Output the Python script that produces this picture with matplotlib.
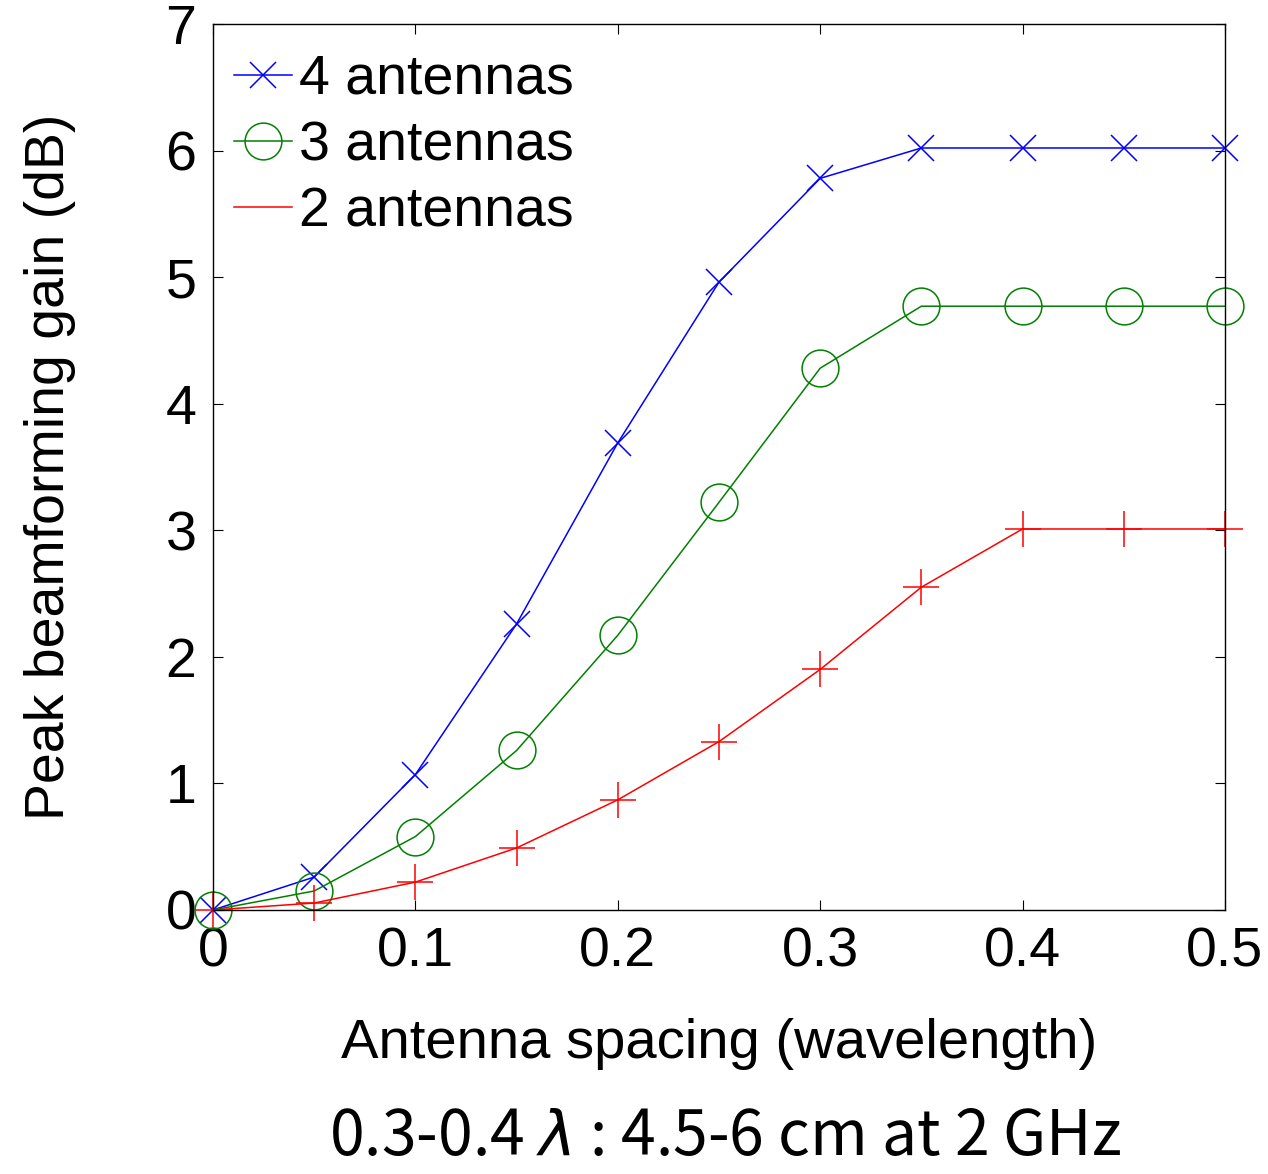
import matplotlib
matplotlib.use('Agg')
from matplotlib import pyplot as plt
from matplotlib.lines import Line2D
import numpy as np

# antenna spacing in wavelengths
spacing = [0, 0.05, 0.1, 0.15, 0.2, 0.25, 0.3, 0.35, 0.4, 0.45, 0.5]

# peak beamforming gain (dB)
gain_4 = [0, 0.26, 1.07, 2.26, 3.69, 4.96, 5.78, 6.02, 6.02, 6.02, 6.02]
gain_3 = [0, 0.15, 0.58, 1.26, 2.17, 3.22, 4.28, 4.77, 4.77, 4.77, 4.77]
gain_2 = [0, 0.055, 0.22, 0.49, 0.87, 1.33, 1.90, 2.55, 3.01, 3.01, 3.01]

labels = ['4 antennas', '3 antennas', '2 antennas']
xticks = [0, 0.1, 0.2, 0.3, 0.4, 0.5]
yticks = [0, 1, 2, 3, 4, 5, 6, 7]

plt.rcParams['font.family'] = ['Liberation Sans', 'DejaVu Sans']

fig = plt.figure(figsize=(12.68, 11.74), dpi=100)
ax = fig.add_axes([0.168, 0.2249, 0.798, 0.7547])

lw = 1.1
l4, = ax.plot(spacing, gain_4, color='blue', marker='x', markersize=18.5,
              markeredgewidth=lw, linewidth=lw, clip_on=False)
l3, = ax.plot(spacing, gain_3, color='green', marker='o', markersize=26.5,
              markerfacecolor='none', markeredgewidth=lw, linewidth=lw, clip_on=False)
l2, = ax.plot(spacing, gain_2, color='red', marker='+', markersize=26.5,
              markeredgewidth=lw, linewidth=lw, clip_on=False)

ax.set_xlim(0, 0.5)
ax.set_ylim(0, 7)
ax.set_xticks(xticks)
ax.set_xticklabels(['0', '0.1', '0.2', '0.3', '0.4', '0.5'])
ax.set_yticks(yticks)
ax.tick_params(direction='in', length=7, width=0.8, top=True, right=True,
               labelsize=40, pad=12)
for s in ax.spines.values():
    s.set_linewidth(1.0)

ax.set_xlabel('Antenna spacing (wavelength)', fontsize=40.5, labelpad=28)
ax.set_ylabel('Peak beamforming gain (dB)', fontsize=40, labelpad=64)

# the red entry shows only the line in the original
h2 = Line2D([], [], color='red', linewidth=lw)
ax.legend([l4, l3, h2], labels, loc='upper left', bbox_to_anchor=(-0.009, 1.0),
          frameon=False, fontsize=40,
          handlelength=1.05, handletextpad=0.13, labelspacing=0.26,
          borderaxespad=0.15, borderpad=0.39)

fig.text(0.572, 0.004, '0.3-0.4 $\\lambda$ : 4.5-6 cm at 2 GHz', ha='center',
         va='bottom', fontsize=45, family=['Noto Sans CJK KR', 'DejaVu Sans'])

fig.savefig('out.png', dpi=100)
